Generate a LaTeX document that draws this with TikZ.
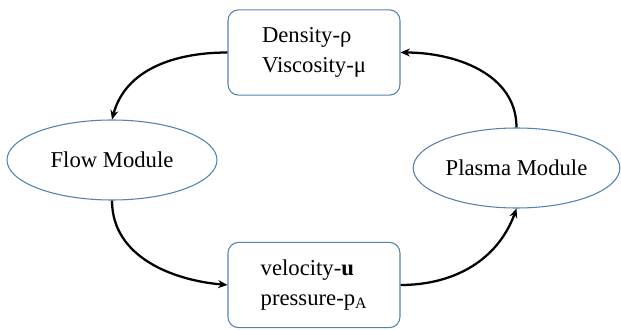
\documentclass[tikz,border=0pt]{standalone}
\usepackage{fontspec}
\setmainfont{Liberation Serif}
\usepackage{tikz}
\usetikzlibrary{shapes.geometric,arrows.meta}
\definecolor{edgeblue}{RGB}{84,130,175}

\begin{document}
\begin{tikzpicture}[x=0.75pt,y=0.75pt,
        qbox/.style={draw=edgeblue,line width=0.8pt,rounded corners=8pt,
            minimum width=129pt,minimum height=64pt,inner sep=0pt,
            align=left,font=\fontsize{17}{22}\selectfont},
        module/.style={ellipse,draw=edgeblue,line width=0.8pt,
            minimum height=60pt,inner sep=0pt,font=\fontsize{17}{20}\selectfont},
        flowarrow/.style={-{Stealth[length=7pt,width=6pt]},line width=1.7pt}]
        \useasboundingbox (0,0) rectangle (621,329);

        % Quantities
        \node[qbox] (props) at (314,276.5) {Density-ρ\\Viscosity-μ};
        \node[qbox] (fields) at (314,44) {velocity-\textbf{u}\\pressure-p\textsubscript{A}};

        % Modules
        \node[module,minimum width=157.5pt] (flow) at (112,169) {Flow Module};
        \node[module,minimum width=155pt] (plasma) at (516.5,161) {Plasma Module};

        % Coupling loop
        \draw[flowarrow] (props.west) to[out=180,in=75] (flow.north);
        \draw[flowarrow] (flow.south) to[out=270,in=175] (fields.west);
        \draw[flowarrow] (fields.east) to[out=0,in=250] (plasma.south);
        \draw[flowarrow] (plasma.north) to[out=90,in=0] (props.east);
    \end{tikzpicture}
\end{document}
